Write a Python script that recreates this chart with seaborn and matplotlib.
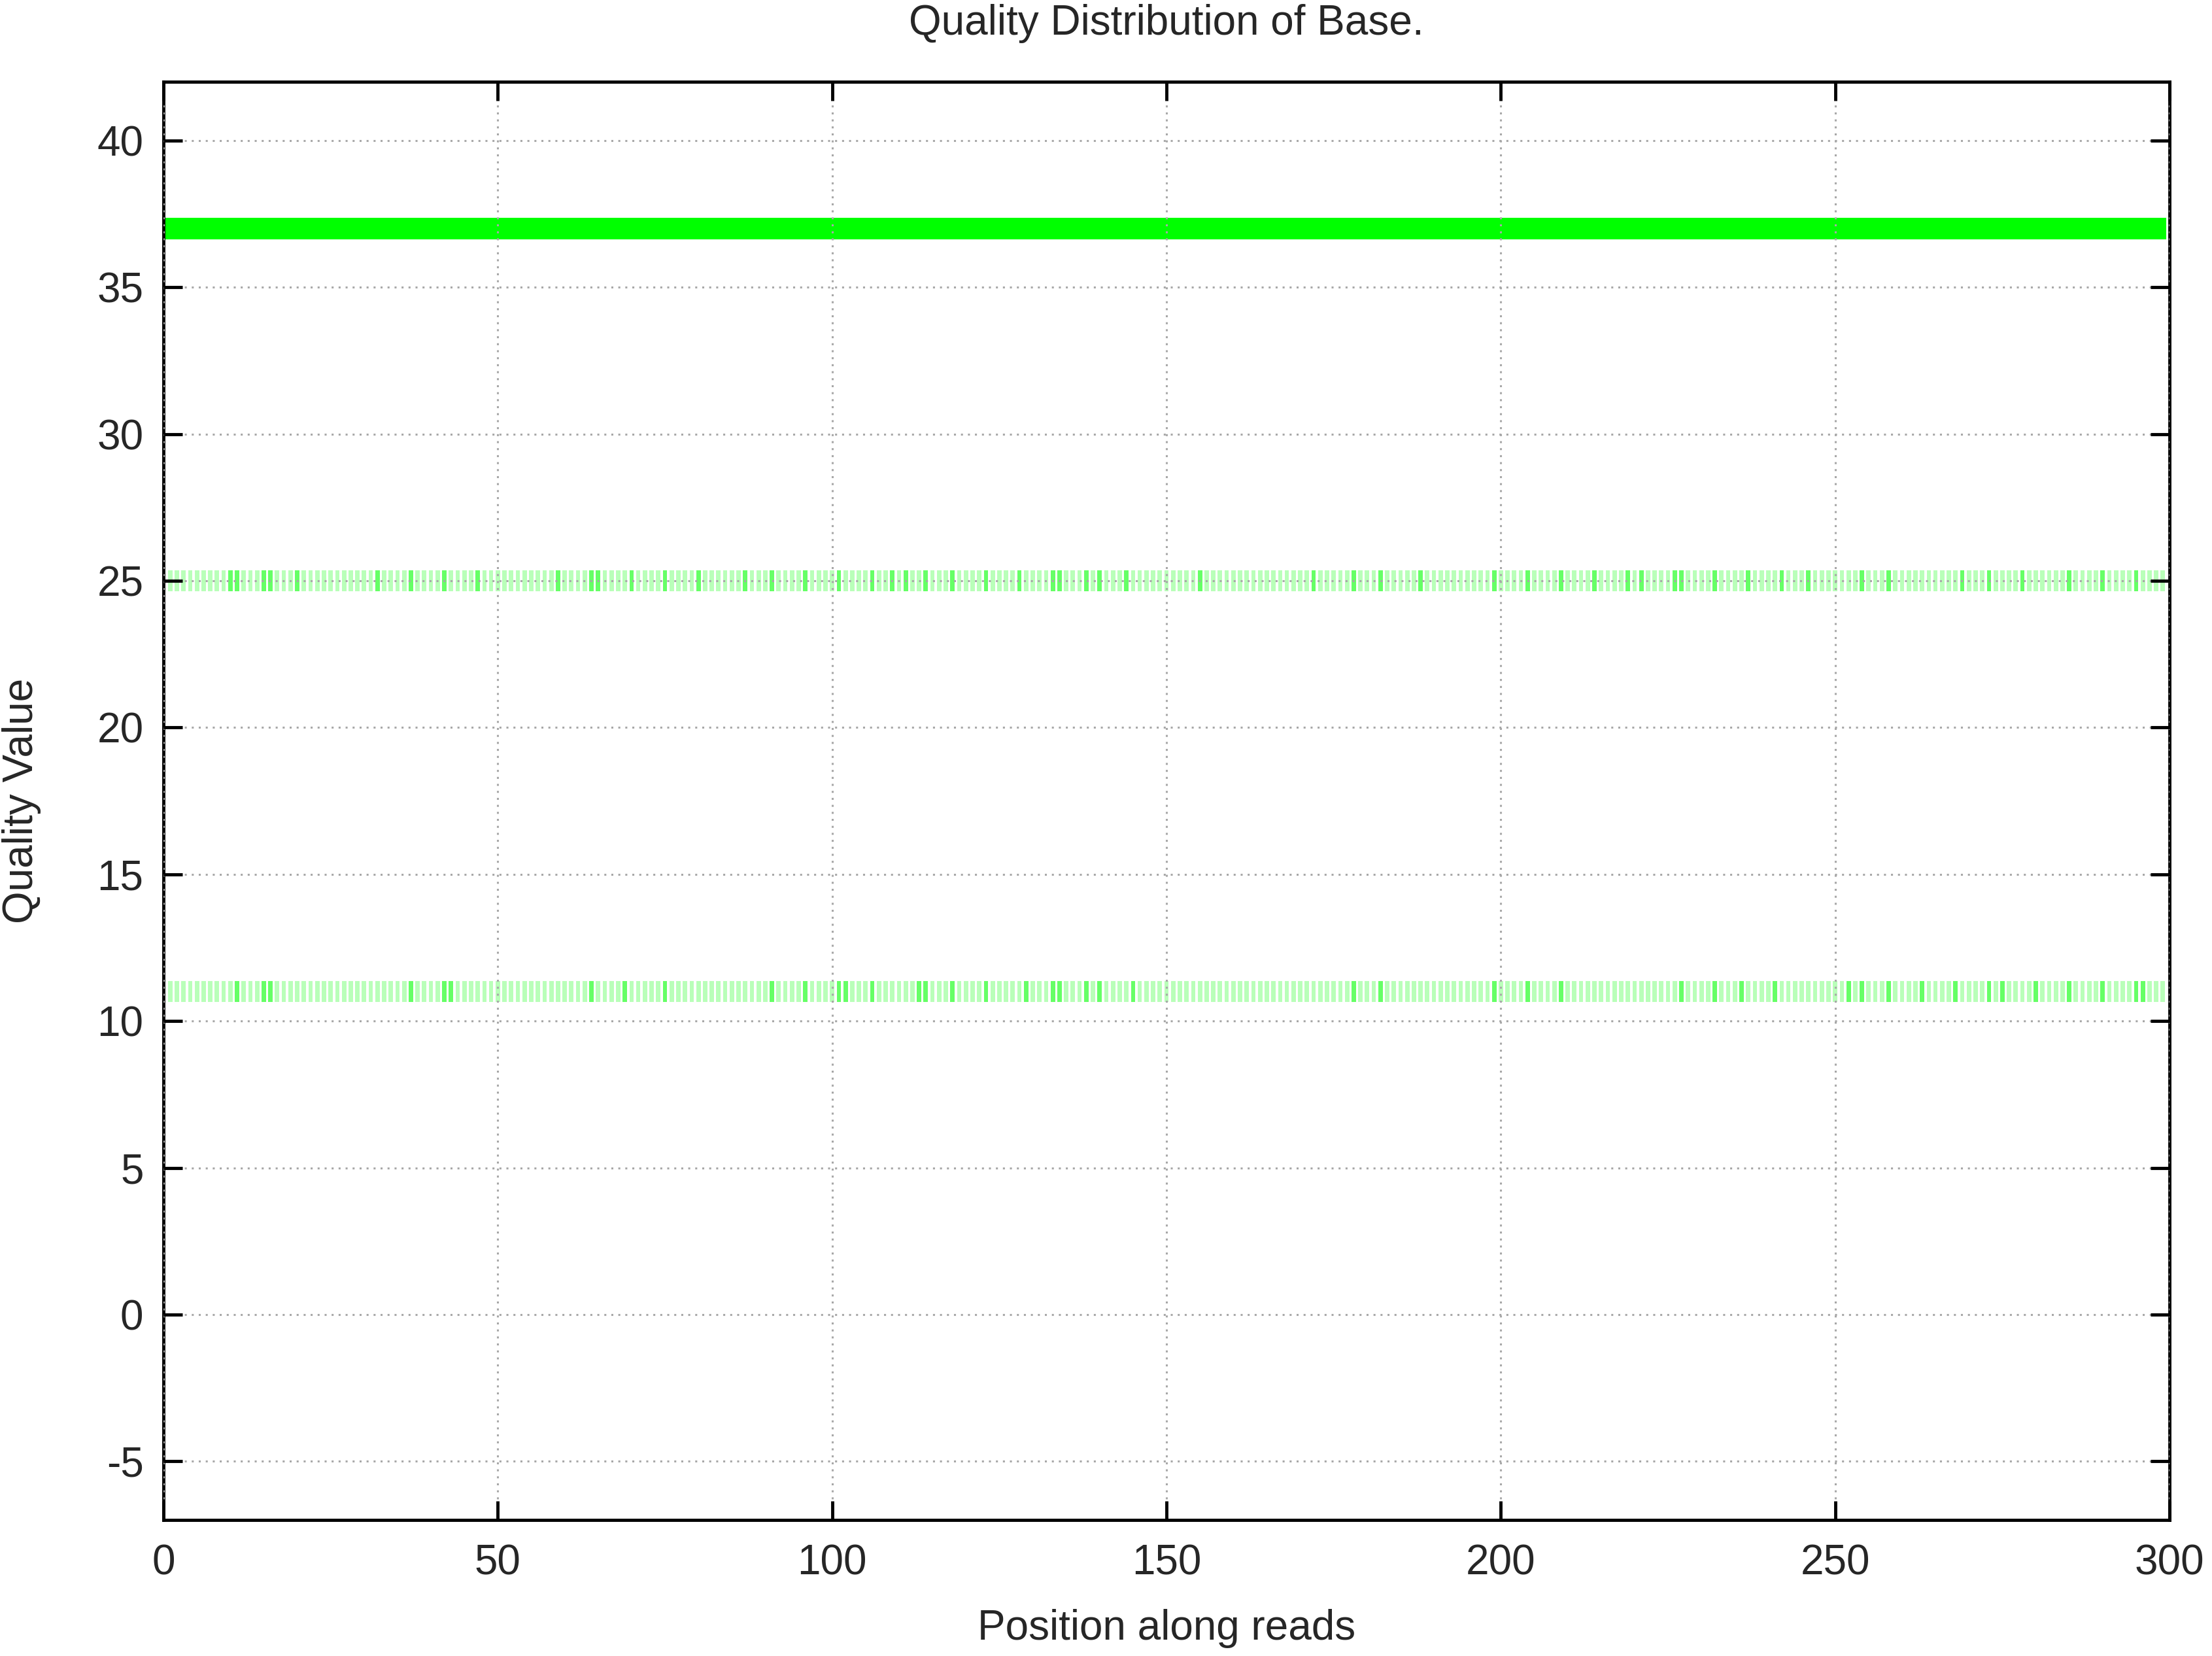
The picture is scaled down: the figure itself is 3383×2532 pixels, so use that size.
import matplotlib
matplotlib.use("Agg")
import matplotlib.pyplot as plt
from matplotlib.colors import LinearSegmentedColormap
import numpy as np
import pandas as pd
import seaborn as sns

# positions along the reads (one cell per base)
positions = list(range(300))

# quality levels that carry counts
top_qual = 37
low_quals = [25, 11]

# fraction of reads per cell
top_frac = 0.80    # Q37: saturated green at every position
pale_frac = 0.22   # Q25 / Q11: light green at most positions
dark_frac = 0.48   # Q25 / Q11: darker stripes

q25_dark = [10, 11, 15, 16, 20, 32, 37, 42, 47, 59, 64, 65, 70, 75, 80, 87, 91, 96,
            101, 106, 109, 111, 114, 118, 123, 128, 133, 134, 138, 140, 144, 155,
            172, 178, 182, 188, 199, 204, 209, 214, 219, 221, 226, 227, 232, 237,
            242, 246, 254, 258, 269, 273, 278, 285, 290, 295]
q11_dark = [11, 15, 16, 37, 42, 43, 64, 69, 75, 91, 96, 101, 102, 106, 113, 114,
            118, 123, 129, 133, 134, 138, 140, 145, 178, 182, 199, 204, 209, 227,
            232, 236, 241, 252, 254, 258, 263, 268, 273, 275, 280, 285, 290, 295, 296]

q25_frac = [dark_frac if p in q25_dark else pale_frac for p in positions]
q11_frac = [dark_frac if p in q11_dark else pale_frac for p in positions]

top_df = pd.DataFrame({"pos": positions, "qual": [top_qual] * len(positions),
                       "frac": [top_frac] * len(positions)})
low_df = pd.DataFrame({"pos": positions * 2,
                       "qual": [low_quals[0]] * len(positions) + [low_quals[1]] * len(positions),
                       "frac": q25_frac + q11_frac})

sns.set_style("ticks")
plt.rcParams["font.family"] = ["Liberation Sans", "DejaVu Sans"]
plt.rcParams["axes.unicode_minus"] = False

green = LinearSegmentedColormap.from_list("wg", ["#ffffff", "#00ff00"])

fig = plt.figure(figsize=(33.83, 25.32), dpi=100)
ax = fig.add_axes([0.0739, 0.0821, 0.9069, 0.8685])

pos = np.array(positions)
half = 0.36
x_full = np.arange(-0.5, len(positions) + 0.5, 1.0)
x_narrow = np.sort(np.concatenate([pos - 0.33, pos + 0.33]))

sns.histplot(data=top_df, x="pos", y="qual", weights="frac", ax=ax,
             bins=(x_full, [top_qual - half, top_qual + half]),
             cmap=green, vmin=0, vmax=top_frac, cbar=False)
sns.histplot(data=low_df, x="pos", y="qual", weights="frac", ax=ax,
             bins=(x_narrow, [11 - half, 11 + half, 25 - half, 25 + half]),
             cmap=green, vmin=0, vmax=top_frac, cbar=False)

ax.set_xlim(0, 300)
ax.set_ylim(-7, 42)
ax.set_xticks(range(0, 301, 50))
ax.set_yticks(range(-5, 41, 5))

ax.set_axisbelow(False)
ax.grid(True, color="#a8a8a8", linestyle=(0, (1, 2.5)), linewidth=2.2)

for s in ax.spines.values():
    s.set_visible(True)
    s.set_color("black")
    s.set_linewidth(3.5)

ax.tick_params(axis="both", which="major", direction="in", length=21, width=3.5,
               top=True, right=True, labelsize=46, color="black")
ax.tick_params(axis="x", pad=26)
ax.tick_params(axis="y", pad=22)

ax.set_title("Quality Distribution of Base.", fontsize=46, pad=52)
ax.set_xlabel("Position along reads", fontsize=46)
ax.set_ylabel("Quality Value", fontsize=46)
ax.xaxis.set_label_coords(0.5, -0.062)
ax.yaxis.set_label_coords(-0.061, 0.5)

fig.savefig("out.png", dpi=100, facecolor="white")
